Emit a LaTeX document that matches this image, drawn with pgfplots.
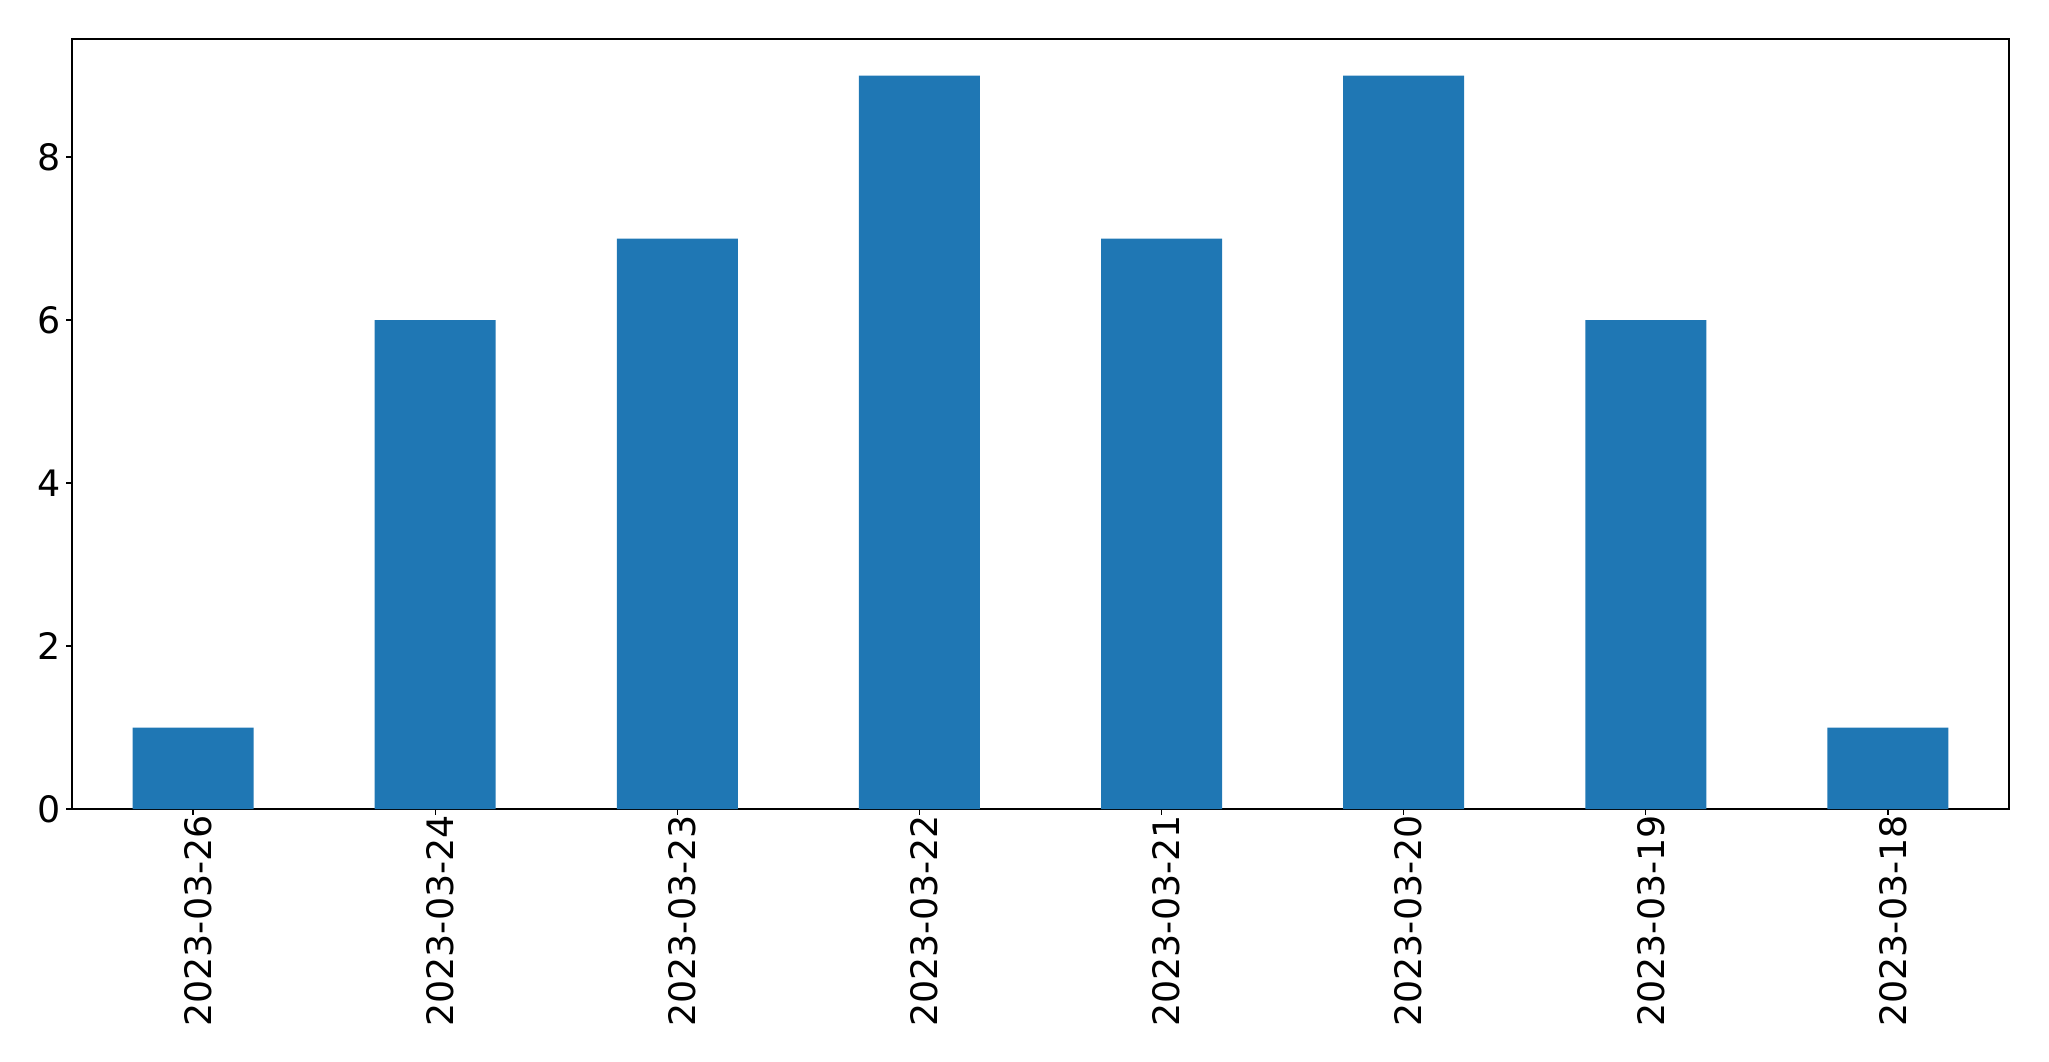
\documentclass[border=0pt]{standalone}
\usepackage{pgfplots}
\pgfplotsset{compat=1.18}
\usepackage{fontspec}
\setmainfont{DejaVu Sans}
\definecolor{mplblue}{HTML}{1F77B4}
\begin{document}
\begin{tikzpicture}
\useasboundingbox (-36pt,-126pt) rectangle (988.5pt,404.5pt);
\begin{axis}[
  at={(0,0)}, anchor=south west,
  scale only axis,
  width=968.5pt, height=385pt,
  xmin=-0.5, xmax=7.5,
  ymin=0, ymax=9.45,
  xtick={0,1,2,3,4,5,6,7},
  xticklabels={2023-03-26,2023-03-24,2023-03-23,2023-03-22,2023-03-21,2023-03-20,2023-03-19,2023-03-18},
  ytick={0,2,4,6,8},
  tick align=outside,
  major tick length=2.85pt,
  axis line style={line width=0.65pt},
  every tick/.style={black, line width=0.65pt},
  xtick pos=bottom, ytick pos=left,
  /pgf/number format/assume math mode=true,
  ticklabel style={font=\fontsize{18.2}{18.2}\selectfont},
  xticklabel style={rotate=90, anchor=east, inner sep=0pt, yshift=-2.5pt},
  yticklabel style={inner sep=0pt, xshift=-2.6pt},
  clip=false,
]
\addplot[ybar, bar width=0.5, fill=mplblue, draw=none] coordinates {
(0,1) (1,6) (2,7) (3,9) (4,7) (5,9) (6,6) (7,1)
};
\end{axis}
\end{tikzpicture}
\end{document}
